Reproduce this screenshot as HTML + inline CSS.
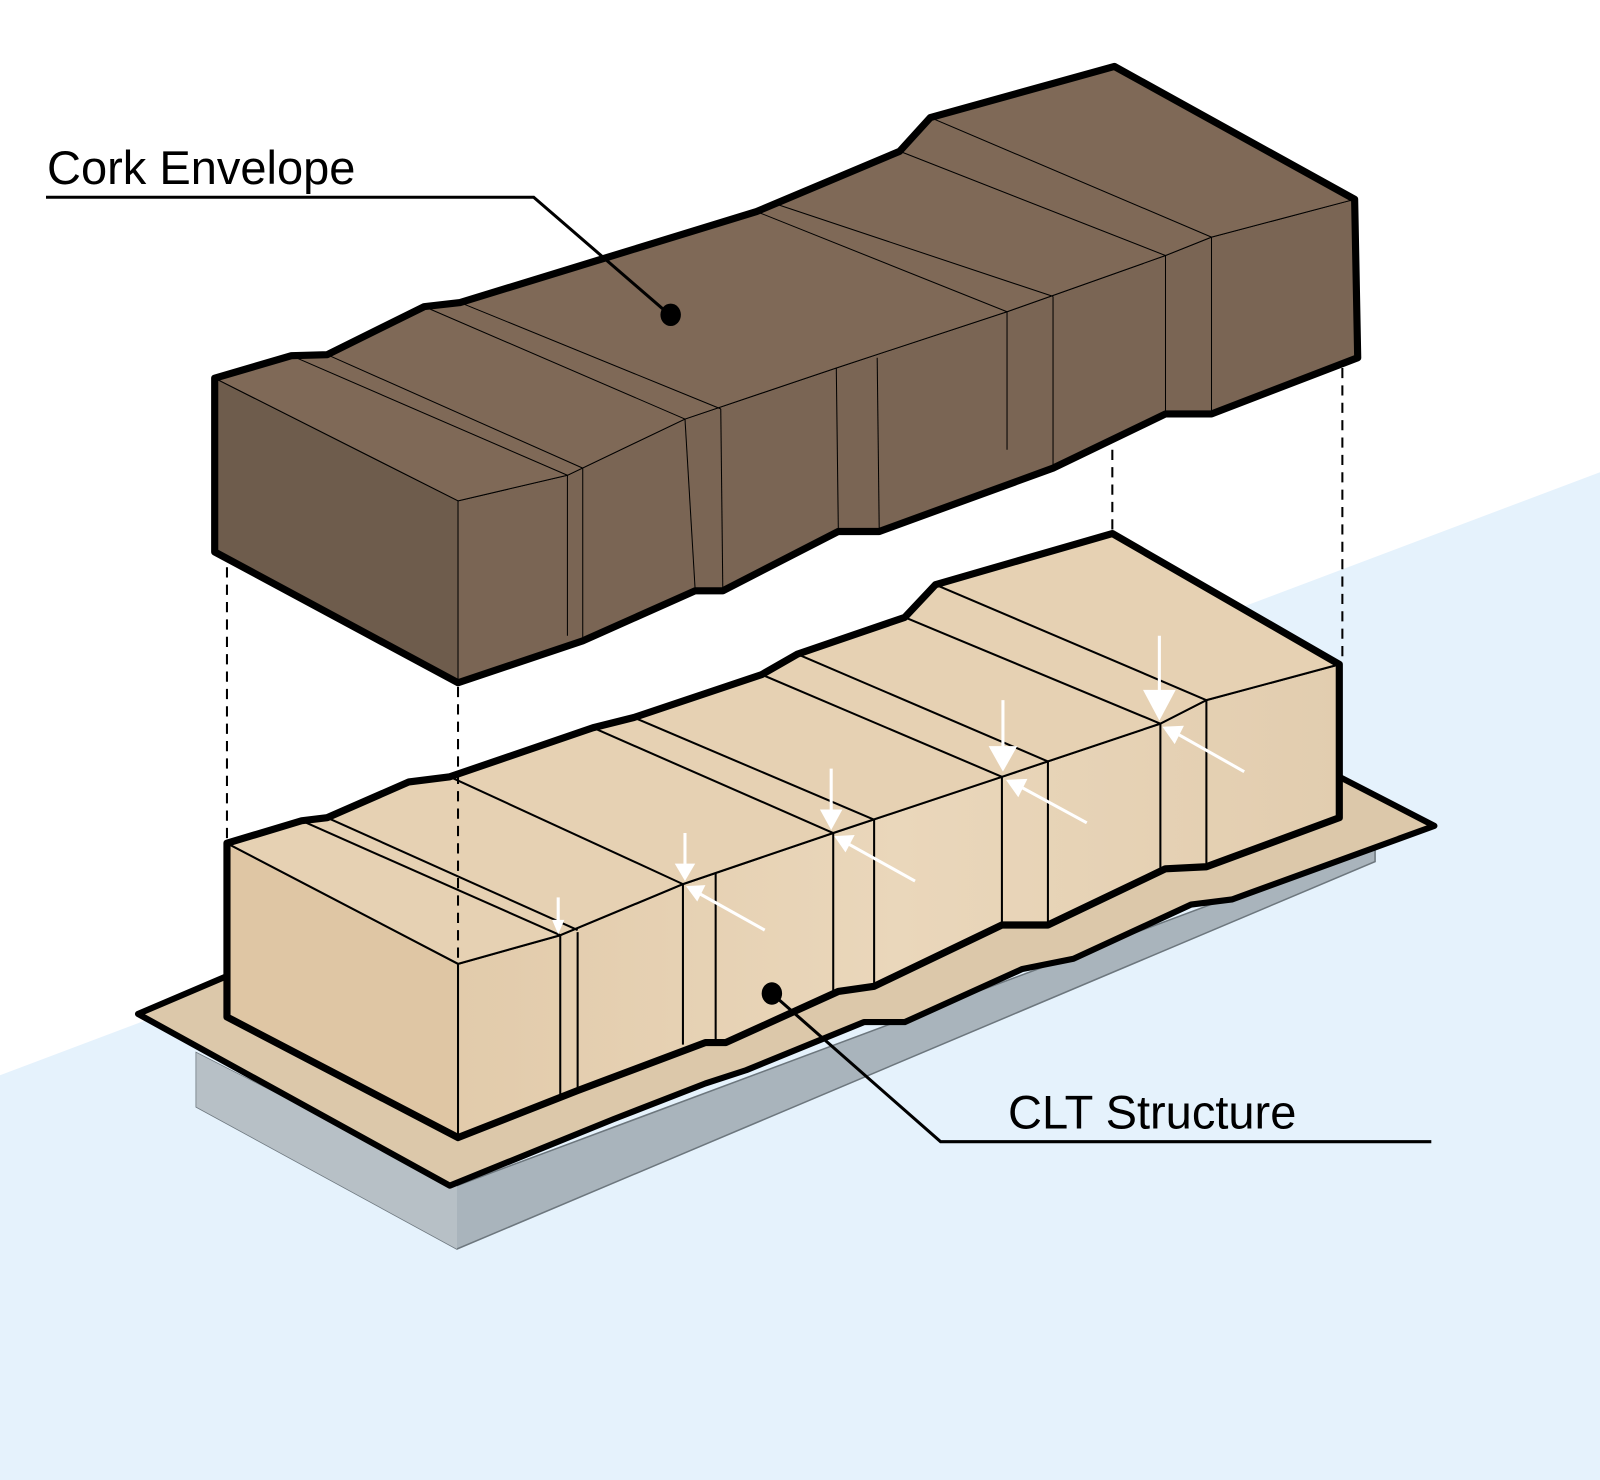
<!DOCTYPE html>
<html><head><meta charset="utf-8"><style>
html,body{margin:0;padding:0;background:#fff;}
svg{display:block;}
</style></head><body>
<svg width="1600" height="1480" viewBox="0 0 1565 1448" preserveAspectRatio="none" xmlns="http://www.w3.org/2000/svg">
<defs>
<linearGradient id="wood" x1="0" y1="0" x2="1" y2="0">
<stop offset="0" stop-color="#e2cbab"/><stop offset="0.5" stop-color="#ead7bb"/><stop offset="1" stop-color="#e2cdaf"/>
</linearGradient>
</defs>
<rect width="1565" height="1448" fill="#fff"/>
<polygon points="0,1052 1565,462 1565,1448 0,1448" fill="#e5f2fc"/>

<polygon points="192,1030 192,1083 447,1222 1345,843 1345,825 447,1160" fill="#a9b4bc" stroke="#6d777e" stroke-width="1.5"/>
<polygon points="192,1083 447,1222 447,1160 192,1030" fill="#b7c0c6"/>
<polygon points="135,992 222,955 1310,760 1403,808 1205,880 1165,885 1050,938 1000,948 885,1000 845,1000 730,1047 690,1060 600,1095 440,1160" fill="#dcc8aa" stroke="#000" stroke-width="6" stroke-linejoin="round"/>

<g stroke="#000" stroke-linejoin="round">
<polygon points="222,825 448,943 448,1113 222,995" fill="#dfc6a4" stroke-width="2"/>
<polygon points="448,943 548,915 668,865 815,815 980,760 1135,708 1180,685 1310,650 1310,800 1180,848 1140,850 1025,905 980,905 855,965 820,970 710,1020 690,1020 565,1067 448,1113" fill="url(#wood)" stroke-width="2"/>
<polygon points="222,825 295,803 320,800 400,765 440,760 580,712 620,702 745,660 780,640 885,604 915,572 1088,522 1310,650 1180,685 1135,708 980,760 815,815 668,865 548,915 448,943" fill="#e6d1b3" stroke-width="2"/>
<g fill="none" stroke-width="2">
<line x1="565" y1="912" x2="565" y2="1067"/><line x1="548" y1="915" x2="548" y2="1072"/>
<line x1="668" y1="865" x2="668" y2="1022"/><line x1="700" y1="855" x2="700" y2="1020"/>
<line x1="815" y1="815" x2="815" y2="970"/><line x1="855" y1="802" x2="855" y2="965"/>
<line x1="980" y1="760" x2="980" y2="905"/><line x1="1025" y1="745" x2="1025" y2="905"/>
<line x1="1135" y1="708" x2="1135" y2="850"/><line x1="1180" y1="685" x2="1180" y2="848"/>
<line x1="295" y1="803" x2="548" y2="915"/><line x1="320" y1="800" x2="565" y2="910"/>
<line x1="440" y1="760" x2="668" y2="865"/><line x1="580" y1="712" x2="815" y2="815"/>
<line x1="620" y1="702" x2="855" y2="802"/><line x1="745" y1="660" x2="980" y2="760"/>
<line x1="780" y1="640" x2="1025" y2="745"/><line x1="885" y1="604" x2="1135" y2="708"/>
<line x1="915" y1="572" x2="1180" y2="685"/>
</g>
<polygon points="222,825 295,803 320,800 400,765 440,760 580,712 620,702 745,660 780,640 885,604 915,572 1088,522 1310,650 1310,800 1180,848 1140,850 1025,905 980,905 855,965 820,970 710,1020 690,1020 565,1067 448,1113 222,995" fill="none" stroke-width="7"/>
</g>

<g stroke="#fff" stroke-width="3" fill="#fff">
<line x1="546" y1="878" x2="546" y2="905"/><polygon points="540,900 552,900 546,914" stroke="none"/>
<line x1="670" y1="815" x2="670" y2="850"/><polygon points="660,845 680,845 670,862" stroke="none"/>
<line x1="680" y1="872" x2="748" y2="910"/><polygon points="671,867 690,866 682,882" stroke="none"/>
<line x1="813" y1="752" x2="813" y2="795"/><polygon points="802,792 824,792 813,812" stroke="none"/>
<line x1="825" y1="823" x2="895" y2="862"/><polygon points="816,818 836,817 827,834" stroke="none"/>
<line x1="981" y1="685" x2="981" y2="735"/><polygon points="967,730 995,730 981,755" stroke="none"/>
<line x1="995" y1="768" x2="1063" y2="805"/><polygon points="984,763 1005,762 996,780" stroke="none"/>
<line x1="1134" y1="622" x2="1134" y2="680"/><polygon points="1118,675 1150,675 1134,705" stroke="none"/>
<line x1="1148" y1="716" x2="1217" y2="755"/><polygon points="1137,711 1158,710 1149,728" stroke="none"/>
</g>

<g stroke="#000" stroke-linejoin="round">
<polygon points="210,370 448,490 448,668 210,540" fill="#6e5c4c" stroke-width="1"/>
<polygon points="448,490 555,465 670,410 818,360 985,305 1140,250 1185,232 1325,195 1328,350 1185,405 1140,405 1030,458 860,520 820,520 707,578 680,578 570,627 448,668" fill="#7a6554" stroke-width="1"/>
<polygon points="210,370 285,348 320,347 415,300 450,296 740,207 880,148 910,115 1090,65 1325,195 1185,232 1140,250 985,305 818,360 670,410 555,465 448,490" fill="#7f6957" stroke-width="1"/>
<g fill="none" stroke-width="1">
<line x1="555" y1="465" x2="555" y2="622"/><line x1="570" y1="458" x2="570" y2="627"/>
<line x1="670" y1="410" x2="680" y2="578"/><line x1="705" y1="400" x2="707" y2="578"/>
<line x1="818" y1="360" x2="820" y2="520"/><line x1="858" y1="350" x2="860" y2="520"/>
<line x1="985" y1="305" x2="985" y2="440"/><line x1="1030" y1="290" x2="1030" y2="458"/>
<line x1="1140" y1="250" x2="1140" y2="405"/><line x1="1185" y1="232" x2="1185" y2="405"/>
<line x1="285" y1="348" x2="555" y2="465"/><line x1="320" y1="347" x2="570" y2="458"/>
<line x1="415" y1="300" x2="670" y2="410"/><line x1="450" y1="296" x2="705" y2="400"/>
<line x1="740" y1="207" x2="985" y2="305"/><line x1="760" y1="200" x2="1030" y2="290"/>
<line x1="880" y1="148" x2="1140" y2="250"/><line x1="910" y1="115" x2="1185" y2="232"/>
</g>
<polygon points="210,370 285,348 320,347 415,300 450,296 740,207 880,148 910,115 1090,65 1325,195 1328,350 1185,405 1140,405 1030,458 860,520 820,520 707,578 680,578 570,627 448,668 210,540" fill="none" stroke-width="7"/>
</g>

<g stroke="#000" stroke-width="2" stroke-dasharray="10,7">
<line x1="222" y1="555" x2="222" y2="820"/>
<line x1="448" y1="672" x2="448" y2="940"/>
<line x1="1088" y1="440" x2="1088" y2="518"/>
<line x1="1313" y1="360" x2="1313" y2="645"/>
</g>

<g font-family="Liberation Sans, sans-serif" font-size="46" fill="#000">
<text x="46" y="180">Cork Envelope</text>
<text x="986" y="1104">CLT Structure</text>
</g>
<polyline points="45,193 522,193 655,308" fill="none" stroke="#000" stroke-width="3"/>
<ellipse cx="656" cy="308" rx="10" ry="11" fill="#000"/>
<polyline points="1400,1117 920,1117 755,972" fill="none" stroke="#000" stroke-width="3"/>
<ellipse cx="755" cy="972" rx="10" ry="11" fill="#000"/>
</svg>
</body></html>
